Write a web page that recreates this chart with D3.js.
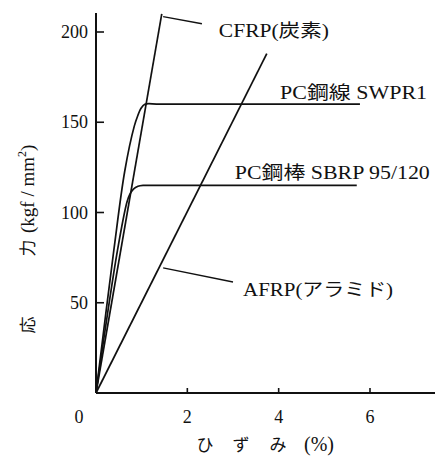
<!DOCTYPE html>
<html>
<head>
<meta charset="utf-8">
<script src="https://cdn.jsdelivr.net/npm/d3@7"></script>
<style>
  body { margin: 0; background: #fff; }
  svg { display: block; }
  text { font-family: "Liberation Serif", "Noto Sans CJK JP", serif; fill: #111; }
</style>
</head>
<body>
<div id="chart"></div>
<script>
// data (strain %, stress kgf/mm2)
const cfrpStrain = [0, 1.44];
const cfrpStress = [0, 210];

const afrpStrain = [0, 3.74];
const afrpStress = [0, 188];

const swprStrain = [0, 0.39, 0.63, 0.84, 0.92, 0.98, 1.07, 1.4, 5.78];
const swprStress = [0, 79, 123, 148, 154, 157.5, 160, 160, 160];

const sbrpStrain = [0, 0.47, 0.68, 0.74, 0.82, 0.92, 1.03, 1.4, 5.71];
const sbrpStress = [0, 79, 106, 110, 113, 114.5, 115, 115, 115];

const xTicks = [0, 2, 4, 6];
const yTicks = [50, 100, 150, 200];

const labelNames = ["CFRP(炭素)", "PC鋼線 SWPR1", "PC鋼棒 SBRP 95/120", "AFRP(アラミド)"];

const width = 435, height = 457;

const x = d3.scaleLinear().domain([0, 6]).range([96, 370]);
const y = d3.scaleLinear().domain([0, 200]).range([393, 32]);

const svg = d3.select("#chart").append("svg")
  .attr("width", width)
  .attr("height", height);

//axes
svg.append("line")
  .attr("x1", x(0)).attr("x2", width)
  .attr("y1", y(0)).attr("y2", y(0))
  .attr("stroke", "#111").attr("stroke-width", 2);
svg.append("line")
  .attr("x1", x(0)).attr("x2", x(0))
  .attr("y1", y(0)).attr("y2", y(210.5))
  .attr("stroke", "#111").attr("stroke-width", 2);

svg.selectAll(".ytick")
  .data(yTicks)
  .enter().append("line")
  .attr("class", "ytick")
  .attr("x1", x(0)).attr("x2", x(0) + 8)
  .attr("y1", d => y(d)).attr("y2", d => y(d))
  .attr("stroke", "#111").attr("stroke-width", 1.6);

svg.selectAll(".ylab")
  .data(yTicks)
  .enter().append("text")
  .attr("class", "ylab")
  .attr("x", 88)
  .attr("y", d => y(d) + 6)
  .attr("text-anchor", "end")
  .attr("font-size", 18)
  .text(d => d);

svg.selectAll(".xtick")
  .data(xTicks.filter(d => d > 0))
  .enter().append("line")
  .attr("class", "xtick")
  .attr("x1", d => x(d)).attr("x2", d => x(d))
  .attr("y1", y(0)).attr("y2", y(0) - 5)
  .attr("stroke", "#111").attr("stroke-width", 1.6);

svg.selectAll(".xlab")
  .data(xTicks)
  .enter().append("text")
  .attr("class", "xlab")
  .attr("x", d => d === 0 ? x(d) - 17 : x(d))
  .attr("y", 423)
  .attr("text-anchor", "middle")
  .attr("font-size", 18)
  .text(d => d);

//axis titles
const xt = svg.append("text").attr("y", 451).attr("font-size", 17);
[["ひ", 205, 17], ["ず", 241, 17], ["み", 278, 17], ["(%)", 319, 20]].forEach(p => {
  xt.append("tspan").attr("x", p[1]).attr("text-anchor", "middle")
    .attr("font-size", p[2]).text(p[0]);
});

const yt = svg.append("text")
  .attr("transform", "translate(34,0) rotate(-90)")
  .attr("font-size", 19);
yt.append("tspan").attr("x", -325).attr("text-anchor", "middle").attr("font-size", 17).text("応");
yt.append("tspan").attr("x", -248).attr("text-anchor", "middle").attr("font-size", 17).text("力");
yt.append("tspan").attr("x", -233).attr("text-anchor", "start").text("(kgf / mm");
yt.append("tspan").attr("dy", -8).attr("font-size", 12).text("2");
yt.append("tspan").attr("dy", 8).text(")");

//curves
const series = [
  {strain: cfrpStrain, stress: cfrpStress},
  {strain: afrpStrain, stress: afrpStress},
  {strain: swprStrain, stress: swprStress},
  {strain: sbrpStrain, stress: sbrpStress}
];
const line = d3.line()
  .x(d => x(d[0]))
  .y(d => y(d[1]))
  .curve(d3.curveCatmullRom.alpha(0.5));

svg.selectAll(".curve")
  .data(series)
  .enter().append("path")
  .attr("class", "curve")
  .attr("d", s => line(s.strain.map((v, i) => [v, s.stress[i]])))
  .attr("fill", "none")
  .attr("stroke", "#111")
  .attr("stroke-width", 1.7);

//leader lines + labels
const leaders = [
  [[1.47, 208.5], [2.32, 204.6]],
  [[1.47, 69.3], [3.0, 61.5]]
];
svg.selectAll(".leader")
  .data(leaders)
  .enter().append("line")
  .attr("class", "leader")
  .attr("x1", d => x(d[0][0])).attr("y1", d => y(d[0][1]))
  .attr("x2", d => x(d[1][0])).attr("y2", d => y(d[1][1]))
  .attr("stroke", "#111").attr("stroke-width", 1.4);

const labelPos = [[2.69, 197, 110], [4.03, 163, 147], [3.04, 118.5, 195], [3.22, 53.7, 150]];
svg.selectAll(".lab")
  .data(labelNames)
  .enter().append("text")
  .attr("class", "lab")
  .attr("x", (d, i) => x(labelPos[i][0]))
  .attr("y", (d, i) => y(labelPos[i][1]))
  .attr("font-size", 18)
  .attr("textLength", (d, i) => labelPos[i][2])
  .attr("lengthAdjust", "spacingAndGlyphs")
  .text(d => d);
</script>
</body>
</html>
